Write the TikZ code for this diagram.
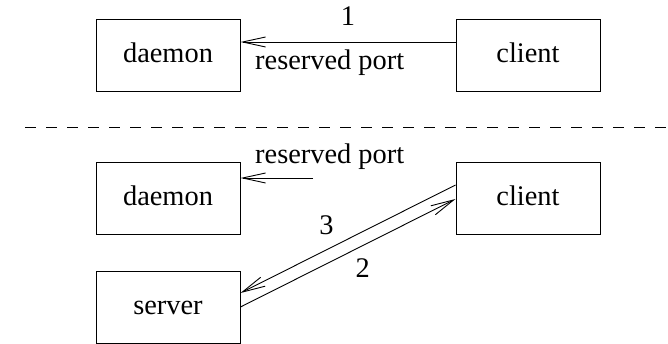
\documentclass[tikz,border=0pt]{standalone}
\usepackage{fontspec}
\setmainfont{Liberation Serif}
\usetikzlibrary{arrows.meta}

\begin{document}
\begin{tikzpicture}[
        x={(1pt,0pt)},
        y={(0pt,-1pt)},
        %scale=.5,transform shape,
        box/.style={rectangle, draw, line width=1pt, minimum width=144pt, minimum height=72pt, inner sep=0pt, text height=19pt, text depth=5pt, font=\fontsize{28.4}{34}\selectfont},
        lbl/.style={inner sep=0pt, font=\fontsize{28.4}{34}\selectfont},
        msg/.style={-{Straight Barb[length=23pt,width=10pt]}, line width=0.9pt},
        ]
        \useasboundingbox (0,0) rectangle (668,344);

        \node(daemon1)[box] at (168,56) {daemon};
        \node(client1)[box] at (528,56) {client};
        \node(daemon2)[box] at (168,199) {daemon};
        \node(client2)[box] at (528,199) {client};
        \node(server) [box] at (168,307) {server};

        \draw[line width=0.9pt, dash pattern=on 11pt off 10pt] (25,127) -- (668,127);

        \draw[msg] ([yshift=14pt]client1.west) -- ([yshift=14pt]daemon1.east);
        \node(num1)[lbl, anchor=base] at (348,26) {1};
        \node(port1)[lbl, anchor=base west] at (255,70) {reserved port};

        \coordinate(portend) at (313,178);
        \draw[msg] (portend) -- ([yshift=21pt]daemon2.east);
        \node(port2)[lbl, anchor=base west] at (255,164) {reserved port};

        \draw[msg] ([yshift=14pt]client2.west) -- ([yshift=14pt]server.east);
        \draw[msg] (server.east) -- (client2.west);
        \node(num3)[lbl, anchor=base] at (326.5,235) {3};
        \node(num2)[lbl, anchor=base] at (362.7,277.7) {2};

      \end{tikzpicture}
\end{document}
